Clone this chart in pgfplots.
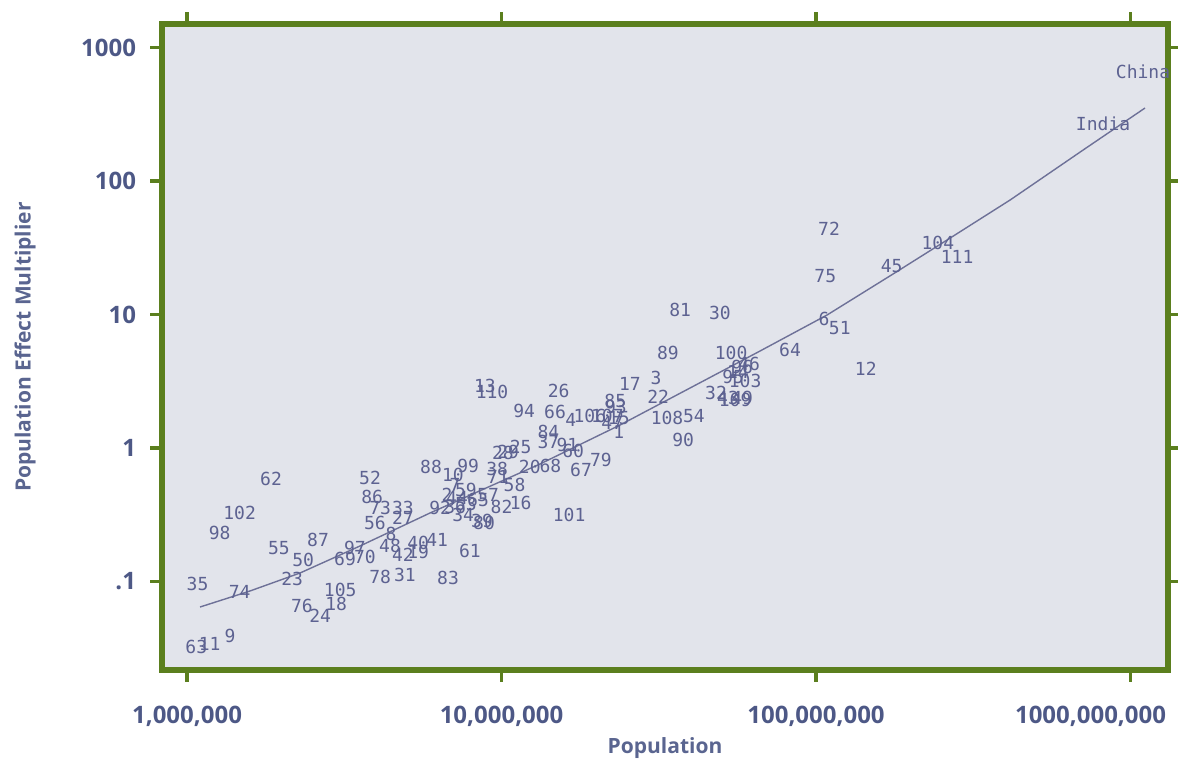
\documentclass[border=0pt]{standalone}
\usepackage{pgfplots}
\usepackage{pgfplotstable}
\pgfplotsset{compat=1.18}
\usepackage{fontspec}
\setmainfont{Open Sans}
\newfontfamily\labfont{DejaVu Sans Mono}
\definecolor{bg}{HTML}{E2E4EB}
\definecolor{grn}{HTML}{5B7F1E}
\definecolor{tickcol}{HTML}{4D5886}
\definecolor{axlab}{HTML}{5A6590}
\definecolor{labcol}{HTML}{5D6291}
\definecolor{linecol}{HTML}{6E7198}

\pgfplotstableread{
x y label
1.07e6 0.0323 63
1.18e6 0.0340 11
1.37e6 0.0391 9
1.08e6 0.0958 35
1.47e6 0.0834 74
1.27e6 0.231 98
1.47e6 0.326 102
1.85e6 0.586 62
1.96e6 0.178 55
2.34e6 0.145 50
2.16e6 0.104 23
2.61e6 0.205 87
2.32e6 0.0655 76
2.65e6 0.0552 24
2.98e6 0.0678 18
3.07e6 0.0864 105
3.42e6 0.178 97
3.18e6 0.147 69
3.68e6 0.153 70
3.82e6 0.596 52
3.88e6 0.430 86
4.11e6 0.355 73
4.86e6 0.355 33
3.96e6 0.274 56
4.86e6 0.299 27
4.45e6 0.227 8
4.42e6 0.185 48
5.43e6 0.194 40
6.24e6 0.205 41
4.86e6 0.158 42
5.43e6 0.166 19
4.11e6 0.108 78
4.93e6 0.112 31
6.76e6 0.106 83
7.94e6 0.169 61
5.97e6 0.721 88
7.83e6 0.733 99
7.01e6 0.628 10
7.12e6 0.528 7
6.71e6 0.445 2
7.71e6 0.485 59
6.38e6 0.355 92
7.12e6 0.361 36
7.71e6 0.381 53
8.42e6 0.408 65
9.06e6 0.445 57
1.00e7 0.361 82
1.15e7 0.387 16
7.55e6 0.315 34
8.67e6 0.284 39
8.80e6 0.274 80
7.22e6 0.422 44
9.75e6 0.607 71
1.10e7 0.528 58
9.68e6 0.696 38
1.01e7 0.917 28
1.05e7 0.933 29
1.15e7 1.017 25
1.41e7 1.109 37
1.62e7 1.053 91
1.69e7 0.950 60
1.41e7 1.318 84
1.18e7 1.893 94
1.48e7 1.861 66
1.66e7 1.621 4
1.91e7 1.737 106
2.17e7 1.737 107
2.36e7 1.678 15
2.25e7 1.539 47
2.30e7 2.249 85
2.31e7 2.028 93
2.36e7 1.318 1
1.52e7 2.673 26
8.86e6 2.913 13
9.33e6 2.627 110
2.56e7 3.016 17
3.10e7 3.344 3
3.15e7 2.410 22
1.23e7 0.721 20
1.43e7 0.733 68
1.79e7 0.684 67
2.07e7 0.813 79
1.64e7 0.315 101
3.36e7 1.678 108
4.09e7 1.737 54
3.78e7 1.148 90
3.70e7 10.81 81
4.95e7 10.26 30
3.38e7 5.147 89
5.37e7 5.147 100
8.27e7 5.420 64
4.81e7 2.582 32
5.82e7 4.044 96
6.13e7 4.259 46
5.45e7 3.402 95
5.95e7 3.177 103
5.65e7 3.709 14
5.25e7 2.369 43
5.82e7 2.369 49
5.53e7 2.289 109
1.06e8 9.253 6
1.19e8 7.923 51
1.44e8 3.906 12
1.10e8 43.69 72
1.07e8 19.43 75
1.74e8 23.09 45
2.44e8 34.32 104
2.81e8 26.96 111
1.096e9 655.4 China
8.18e8 267.2 India
}\labeltable

\begin{document}
\begin{tikzpicture}
\path[use as bounding box] (0,0) rectangle (589pt,381.5pt);
\begin{axis}[
  at={(81pt,46.5pt)}, anchor=south west,
  scale only axis, width=503pt, height=323pt,
  xmode=log, ymode=log,
  xmin=8.327e5, xmax=1.316e9, ymin=0.02173, ymax=1500,
  axis background/.style={fill=bg},
  axis line style={draw=grn, line width=2.8pt},
  tick align=outside, major tick length=6pt,
  every tick/.style={draw=grn, line width=1.6pt},
  xminorticks=false, yminorticks=false,
  xtick={1e6,1e7,1e8,1e9},
  xticklabels={{1,000,000},{10,000,000},{100,000,000},{\hspace*{-40pt}1000,000,000}},
  ytick={0.1,1,10,100,1000},
  yticklabels={.1,1,10,100,1000},
  ticklabel style={font=\bfseries\fontsize{12}{14}\selectfont, text=tickcol},
  xticklabel style={yshift=-8.5pt},
  yticklabel style={xshift=-3.5pt},
  xlabel={Population}, ylabel={Population Effect Multiplier},
  every axis x label/.style={at={(axis description cs:0.5,-0.1207)}, anchor=center},
  every axis y label/.style={at={(axis description cs:-0.136,0.5)}, rotate=90, anchor=center},
  label style={font=\bfseries\fontsize{10.5}{12}\selectfont, text=axlab},
  clip=false,
]
\addplot[no marks, color=linecol, line width=0.7pt] coordinates {
(1.100e6,0.0644) (1.586e6,0.0849) (2.288e6,0.1158) (3.549e6,0.1845)
(5.926e6,0.326) (1.326e7,0.759) (2.382e7,1.487) (3.976e7,2.814)
(6.64e7,5.329) (1.084e8,9.91) (1.758e8,20.11) (2.61e8,36.14)
(4.141e8,72.04) (7.07e8,170.7) (1.112e9,352.2)};
\addplot[draw=none, mark=none, nodes near coords, point meta=explicit symbolic,
  nodes near coords align=center,
  every node near coord/.append style={font=\labfont\fontsize{9}{10}\selectfont, text=labcol, inner sep=0pt, anchor=center}]
  table[x=x, y=y, meta=label] {\labeltable};
\end{axis}
\end{tikzpicture}
\end{document}
